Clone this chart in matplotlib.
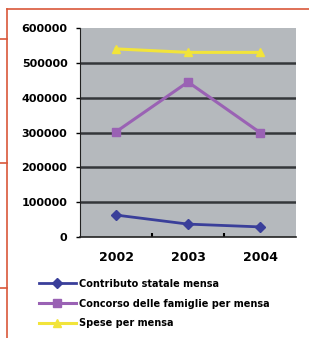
import numpy as np
import matplotlib
matplotlib.use("Agg")
from matplotlib import pyplot as plt
from matplotlib.lines import Line2D

years = ["2002", "2003", "2004"]
contributo = [63000, 37000, 29000]
concorso = [302000, 445000, 300000]
spese = [540000, 530000, 530000]
series_names = ["Contributo statale mensa",
                "Concorso delle famiglie per mensa",
                "Spese per mensa"]
y_ticks = [0, 100000, 200000, 300000, 400000, 500000, 600000]

fig = plt.figure(figsize=(3.09, 3.38), dpi=100)
fig.patch.set_facecolor("white")

ax = fig.add_axes([80 / 309, 1 - 237 / 338, 216 / 309, 209 / 338])
ax.set_facecolor("#b5b9bd")

x = np.arange(len(years))
ax.plot(x, contributo, color="#3a3f9a", lw=2, marker="D", ms=5, label=series_names[0])
ax.plot(x, concorso, color="#9a62b4", lw=2.2, marker="s", ms=6, label=series_names[1])
ax.plot(x, spese, color="#f2e43a", lw=2.2, marker="^", ms=6, label=series_names[2])

ax.set_xlim(-0.5, 2.5)
ax.set_ylim(0, 600000)
ax.set_yticks(y_ticks)
ax.set_yticklabels([str(v) for v in y_ticks], fontsize=8, fontweight="bold")
ax.set_xticks(x)
ax.set_xticklabels(years, fontsize=9, fontweight="bold")
ax.tick_params(axis="x", length=0, pad=10)
ax.set_xticks([0.5, 1.5], minor=True)
ax.tick_params(axis="x", which="minor", length=3, direction="in", width=1.5)
ax.tick_params(axis="y", length=3, width=1, pad=6)

# horizontal gridlines
for v in y_ticks[1:-1]:
    ax.axhline(v, color="#34373a", lw=1.8, zorder=1)

for s in ["top", "right"]:
    ax.spines[s].set_visible(False)
ax.spines["left"].set_color("#222222")
ax.spines["bottom"].set_color("#222222")
ax.spines["bottom"].set_linewidth(1.2)

fig.legend(loc="upper left", bbox_to_anchor=(35 / 309, 1 - 275 / 338),
           frameon=False, handlelength=3.8, handletextpad=0.3,
           labelspacing=1.0, prop={"size": 7, "weight": "bold"}, borderaxespad=0)

# page decoration lines
red = "#d9583a"
fig.add_artist(Line2D([7 / 309, 1], [1 - 9 / 338, 1 - 9 / 338], color=red, lw=1.2))
fig.add_artist(Line2D([7 / 309, 7 / 309], [0, 1 - 9 / 338], color=red, lw=1.2))
for yy in [39, 163, 288]:
    fig.add_artist(Line2D([0, 7 / 309], [1 - yy / 338, 1 - yy / 338], color=red, lw=1.2))

fig.savefig("out.png", dpi=100)
